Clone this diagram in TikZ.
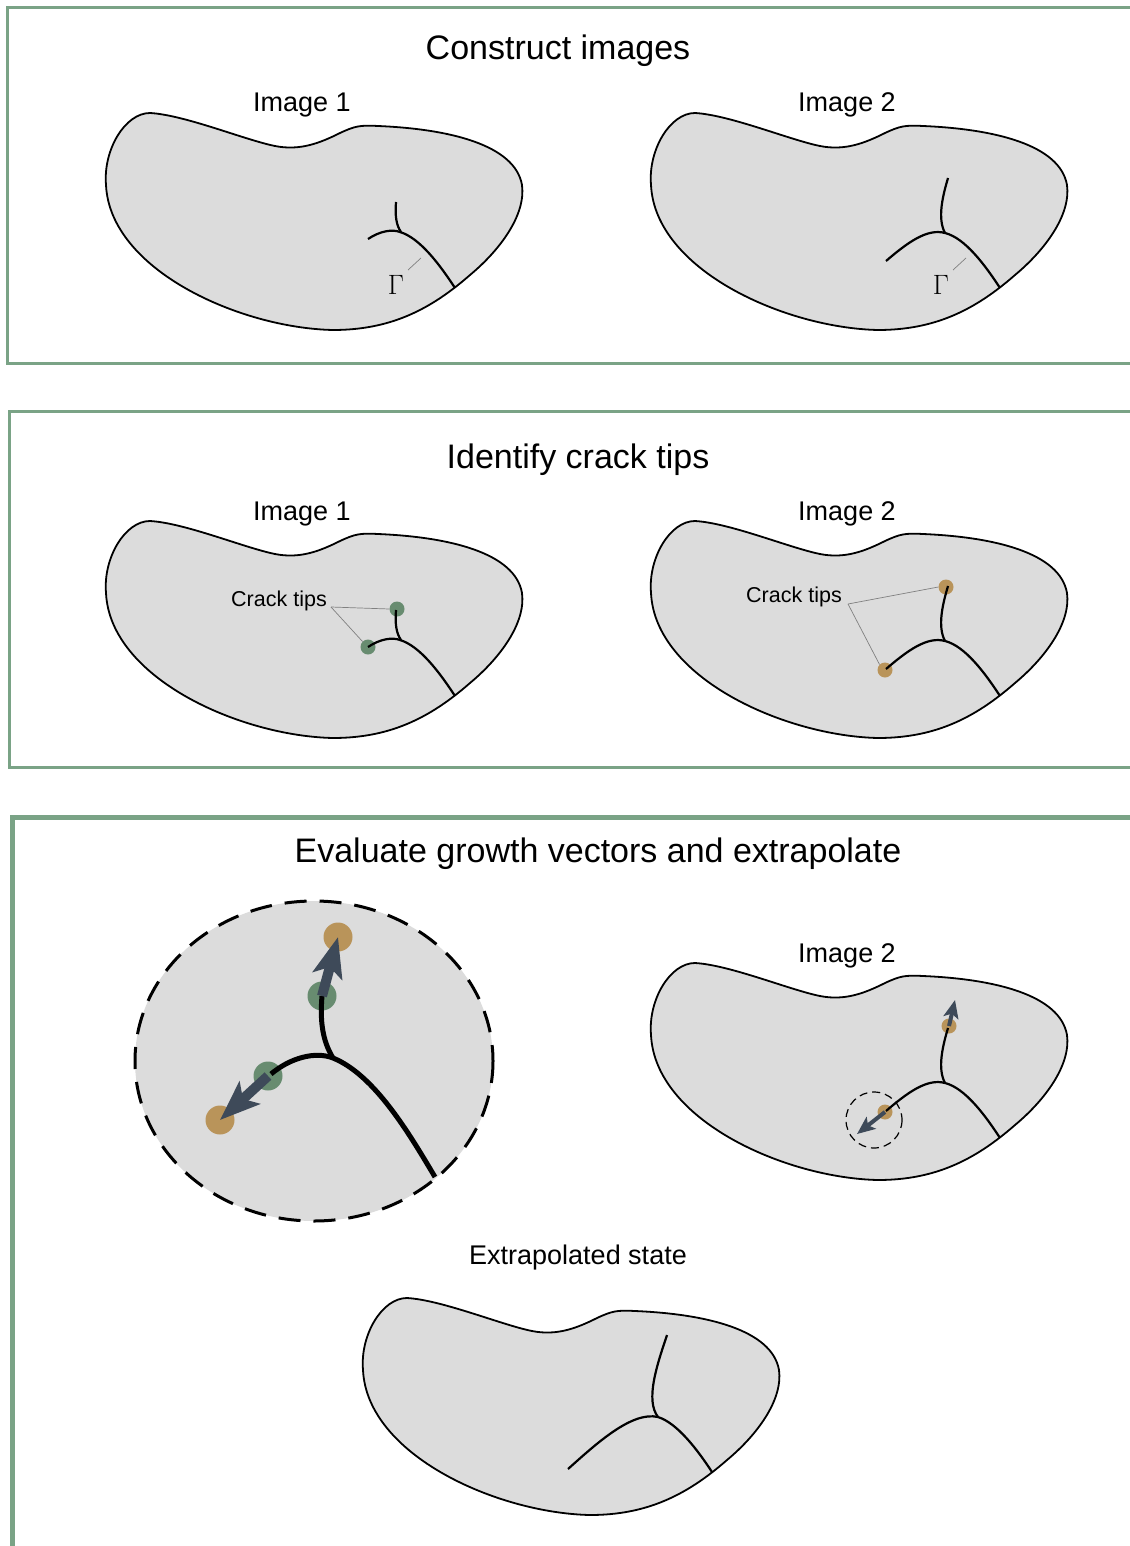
\documentclass[tikz,border=0pt]{standalone}
\usepackage{fontspec}
\newfontfamily\arialfont{Liberation Sans}
\newfontfamily\lmroman{Latin Modern Roman}
\usetikzlibrary{arrows.meta}
\definecolor{framegreen}{RGB}{122,163,134}
\definecolor{blobgray}{RGB}{220,220,220}
\definecolor{tipgreen}{RGB}{104,140,112}
\definecolor{tiporange}{RGB}{185,148,90}
\definecolor{arrowslate}{RGB}{62,74,89}
\newcommand\kidneyblob[1]{%
  \begin{scope}[shift={#1}]
  \draw[blob] (150,113) .. controls (185,115) and (245,140) .. (275,146)
    .. controls (300,151) and (320,143) .. (340,133)
    .. controls (355,126) and (360,125) .. (378,126)
    .. controls (450,129) and (515,145) .. (522,185)
    .. controls (526,215) and (500,250) .. (470,275)
    .. controls (430,310) and (390,330) .. (333,330)
    .. controls (240,328) and (110,270) .. (106,185)
    .. controls (103,150) and (125,113) .. (150,113) -- cycle;
  \end{scope}}
\newcommand\crackone[1]{%
  \begin{scope}[shift={#1}]
  \draw[crack] (368,239) .. controls (380,231) and (392,229) .. (400,232)
     .. controls (420,238) and (440,265) .. (455,288);
  \draw[crack] (396,202) .. controls (395,215) and (396,225) .. (401,232);
  \end{scope}}
\newcommand\cracktwo[1]{%
  \begin{scope}[shift={#1}]
  \draw[crack] (341,261) .. controls (362,243) and (382,228) .. (400,233)
     .. controls (420,238) and (440,265) .. (455,288);
  \draw[crack] (403,178) .. controls (398,195) and (392,218) .. (400,233);
  \end{scope}}
\newcommand\crackthree[1]{%
  \begin{scope}[shift={#1}]
  \draw[crack] (311,284) .. controls (340,258) and (375,226) .. (401,232)
     .. controls (420,238) and (440,264) .. (455,287);
  \draw[crack] (410,150) .. controls (400,180) and (388,215) .. (401,232);
  \end{scope}}
\begin{document}
\begin{tikzpicture}[x=1pt,y=-1pt,
  blob/.style={draw=black, fill=blobgray, line width=1.8pt},
  crack/.style={draw=black, line width=2.2pt},
  frame/.style={draw=framegreen, line width=3pt},
  titletext/.style={font=\arialfont\fontsize{34}{40}\selectfont, inner sep=0pt, anchor=base},
  imgtext/.style={font=\arialfont\fontsize{27}{32}\selectfont, inner sep=0pt, anchor=base},
  tiptext/.style={font=\arialfont\fontsize{21.5}{26}\selectfont, inner sep=0pt, anchor=base},
  gammatext/.style={font=\lmroman\fontsize{28}{30}\selectfont, inner sep=0pt},
  leader/.style={draw=gray, line width=0.7pt},
  tipdot/.style={circle, minimum size=15pt, inner sep=0pt, draw=none},
  bigdot/.style={circle, minimum size=29pt, inner sep=0pt, draw=none},
  smallarrow/.style={draw=arrowslate, line width=4pt, -{Stealth[length=18pt,width=15pt,inset=4pt]}},
  bigarrow/.style={draw=arrowslate, line width=10pt, -{Stealth[length=40pt,width=30pt,inset=9pt]}}
]
\useasboundingbox (0,0) rectangle (1129,1546);
% frames
\draw[frame] (7.5,7.5) rectangle (1145,363.5);
\draw[frame] (9.5,411) rectangle (1145,767.5);
\draw[frame, line width=5pt] (12.5,817.5) rectangle (1145,1560);

% ---------- Section 1 ----------
\node[titletext] (t1) at (558,60) {Construct images};
\node[imgtext] (i1a) at (302,112) {Image 1};
\node[imgtext] (i2a) at (847,112) {Image 2};
\kidneyblob{(0,0)}
\crackone{(0,0)}
\kidneyblob{(545,0)}
\cracktwo{(545,0)}
\node[gammatext] (gA) at (396,285) {Γ};
\node[gammatext] (gB) at (941,285) {Γ};
\coordinate (gAa) at (408,270); \coordinate (gAb) at (421,258);
\coordinate (gBa) at (953,270); \coordinate (gBb) at (966,258);
\draw[leader] (gAa) -- (gAb);
\draw[leader] (gBa) -- (gBb);

% ---------- Section 2 ----------
\node[titletext] (t2) at (578,468) {Identify crack tips};
\node[imgtext] (i1b) at (302,520) {Image 1};
\node[imgtext] (i2b) at (847,520) {Image 2};
\kidneyblob{(0,408)}
\kidneyblob{(545,408)}
\node[tipdot, fill=tipgreen] (g1) at (397,609) {};
\node[tipdot, fill=tipgreen] (g2) at (368,647) {};
\node[tipdot, fill=tiporange] (o1) at (946,587) {};
\node[tipdot, fill=tiporange] (o2) at (885,670) {};
\crackone{(0,408)}
\cracktwo{(545,408)}
\node[tiptext] (ct1) at (279,606) {Crack tips};
\node[tiptext] (ct2) at (794,602) {Crack tips};
\coordinate (ct1p) at (331,607);
\coordinate (ct2p) at (848,604);
\draw[leader] (ct1p) -- (g1.west);
\draw[leader] (ct1p) -- (g2.north west);
\draw[leader] (ct2p) -- (o1.west);
\draw[leader] (ct2p) -- (o2.north west);

% ---------- Section 3 ----------
\node[titletext] (t3) at (598,862) {Evaluate growth vectors and extrapolate};
% zoomed view
\draw[draw=black, fill=blobgray, line width=3pt, dash pattern=on 22pt off 13pt]
  (314,1061) ellipse [x radius=179, y radius=160];
\node[bigdot, fill=tipgreen] (g3) at (322,996) {};
\node[bigdot, fill=tipgreen] (g4) at (268,1076) {};
\node[bigdot, fill=tiporange] (o3) at (338,937) {};
\node[bigdot, fill=tiporange] (o4) at (220,1120) {};
\draw[crack, line width=5pt] (271,1074) .. controls (290,1058) and (315,1051) .. (333,1058)
   .. controls (375,1075) and (410,1135) .. (435,1177);
\draw[crack, line width=5pt] (322,996) .. controls (320,1020) and (322,1040) .. (333,1058);
\draw[bigarrow] (g3.center) -- (o3.center);
\draw[bigarrow] (g4.center) -- (o4.center);

% Image 2 with growth vectors
\node[imgtext] (i2c) at (847,962) {Image 2};
\kidneyblob{(545,850)}
\node[tipdot, fill=tiporange] (o5) at (949,1026) {};
\node[tipdot, fill=tiporange] (o6) at (885,1112) {};
\cracktwo{(545,850)}
\draw[black, line width=1.2pt, dash pattern=on 8pt off 5pt] (874,1120) circle [radius=28];
\coordinate (v5) at (955,1000);
\coordinate (v6) at (857,1134);
\draw[smallarrow] (o5.center) -- (v5);
\draw[smallarrow] (o6.center) -- (v6);

% Extrapolated state
\node[imgtext] (ex) at (578,1264) {Extrapolated state};
\kidneyblob{(257,1185)}
\crackthree{(257,1185)}
\end{tikzpicture}
\end{document}
